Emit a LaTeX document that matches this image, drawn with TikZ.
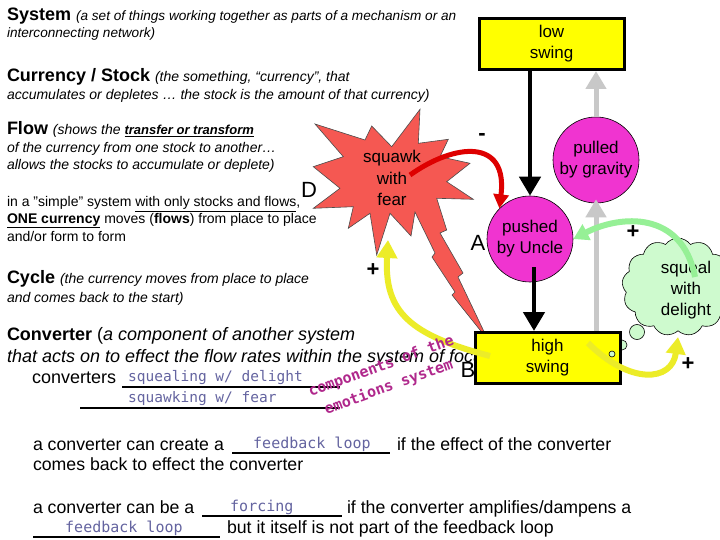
\documentclass[tikz,border=0pt]{standalone}
\usepackage{fontspec}
\setmainfont{Liberation Sans}
\newfontfamily\handfont{DejaVu Sans Mono}
\usetikzlibrary{shapes.symbols,arrows.meta}
\definecolor{boxyellow}{RGB}{255,255,0}
\definecolor{circmag}{RGB}{240,52,208}
\definecolor{starred}{RGB}{245,88,82}
\definecolor{cloudgreen}{RGB}{206,250,206}
\definecolor{arrgreen}{RGB}{150,240,150}
\definecolor{arryellow}{RGB}{236,236,40}
\definecolor{arrred}{RGB}{222,0,0}
\definecolor{arrgray}{RGB}{200,200,200}
\definecolor{handblue}{RGB}{100,100,160}
\definecolor{handpurple}{RGB}{176,40,140}
\begin{document}
\begin{tikzpicture}[x=1pt,y=-1pt,
  txt/.style={anchor=base west,inner sep=0pt,outer sep=0pt},
  hand/.style={anchor=base west,inner sep=0pt,text=handblue,font=\handfont\fontsize{14.5}{16}\selectfont},
  blank/.style={line width=1.3pt},
  swingbox/.style={draw=black,line width=3pt,fill=boxyellow,minimum width=145pt,minimum height=51pt,align=center,font=\fontsize{17}{21}\selectfont,inner sep=0pt},
  stockcirc/.style={circle,draw=black,line width=0.6pt,fill=circmag,minimum size=86pt,align=center,inner sep=0pt,font=\fontsize{17}{21}\selectfont},
  blk/.style={line width=4.5pt,-{Triangle[width=21pt,length=19pt]}},
  gry/.style={draw=arrgray,line width=5pt,-{Triangle[width=20pt,length=18pt]}},
  sign/.style={inner sep=0pt,font=\bfseries\fontsize{22}{22}\selectfont},
  letter/.style={inner sep=0pt,font=\fontsize{22}{22}\selectfont},
  bubble/.style={circle,draw=black,line width=0.6pt,fill=cloudgreen,inner sep=0pt}]
\useasboundingbox (0,0) rectangle (720,540);
\fill[white] (0,0) rectangle (720,540);

% ---------- left text ----------
\node[txt] (sys) at (7,21) {\fontsize{18}{20}\selectfont\bfseries System\ \fontsize{13.6}{15}\selectfont\mdseries\itshape (a set of things working together as parts of a mechanism or an};
\node[txt] (sys2) at (7,38) {\fontsize{13.6}{15}\selectfont\itshape interconnecting network)};
\node[txt] (cur) at (7,82) {\fontsize{18}{20}\selectfont\bfseries Currency / Stock\ \fontsize{14}{15}\selectfont\mdseries\itshape (the something, ``currency'', that};
\node[txt] (cur2) at (7,100) {\fontsize{14}{15}\selectfont\itshape accumulates or depletes … the stock is the amount of that currency)};
\node[txt] (flow) at (7,135) {\fontsize{18}{20}\selectfont\bfseries Flow\ \fontsize{14}{15}\selectfont\mdseries\itshape (shows the \fontsize{13}{15}\selectfont\bfseries\underline{transfer or transform}};
\node[txt] (flow2) at (7,153) {\fontsize{14}{15}\selectfont\itshape of the currency from one stock to another…};
\node[txt] (flow3) at (7,170) {\fontsize{14}{15}\selectfont\itshape allows the stocks to accumulate or deplete)};
\node[txt] (simp1) at (7,207) {\fontsize{14}{15}\selectfont in a "simple" system \underline{with only stocks and flows},};
\node[txt] (simp2) at (7,223) {\fontsize{14}{15}\selectfont\underline{\bfseries ONE currency} moves (\textbf{flows}) from place to place};
\node[txt] (simp3) at (7,241) {\fontsize{14}{15}\selectfont and/or form to form};
\node[txt] (cyc) at (7,283) {\fontsize{18}{20}\selectfont\bfseries Cycle\ \fontsize{14}{15}\selectfont\mdseries\itshape (the currency moves from place to place};
\node[txt] (cyc2) at (7,302) {\fontsize{14}{15}\selectfont\itshape and comes back to the start)};
\node[txt] (conv) at (7,340) {\fontsize{18}{20}\selectfont\textbf{Converter} (\textit{a component of another system}};
\node[txt] (conv2) at (7,362) {\fontsize{18}{20}\selectfont\itshape that acts on to effect the flow rates within the system of focus)};
\node[txt] (convs) at (32,383) {\fontsize{18}{20}\selectfont converters};
\draw[blank] (122,387) -- (340,387);
\node[hand] (h1) at (128,381) {squealing w/ delight};
\draw[blank] (80,408) -- (340,408);
\node[hand] (h2) at (128,402) {squawking w/ fear};

% bottom sentences
\node[txt] (bot1a) at (33,450) {\fontsize{17.7}{22}\selectfont a converter can create a};
\draw[blank] (232,453) -- (390,453);
\node[hand,font=\handfont\fontsize{15}{16}\selectfont] (fb1) at (253,448) {feedback loop};
\node[txt] (bot1b) at (397,450) {\fontsize{17.7}{22}\selectfont if the effect of the converter};
\node[txt] (bot2) at (33,470) {\fontsize{17.7}{22}\selectfont comes back to effect the converter};
\node[txt] (bot3a) at (33,513) {\fontsize{17.7}{22}\selectfont a converter can be a};
\draw[blank] (202,516) -- (342,516);
\node[hand,font=\handfont\fontsize{15}{16}\selectfont] (fc) at (230,511) {forcing};
\node[txt] (bot3b) at (347,513) {\fontsize{17.7}{22}\selectfont if the converter amplifies/dampens a};
\draw[blank] (33,537) -- (220,537);
\node[hand,font=\handfont\fontsize{15}{16}\selectfont] (fb2) at (65,532) {feedback loop};
\node[txt] (bot4) at (227,533) {\fontsize{17.7}{22}\selectfont but it itself is not part of the feedback loop};

% ---------- diagram ----------
% squawk starburst with lightning tail
\filldraw[fill=starred,draw=black!70,line width=0.6pt]
 (315,124) -- (365,140) -- (371.7,126) -- (391.7,146.7) -- (420,109.3) -- (418.3,143.3)
 -- (448.3,139.3) -- (440,156.7) -- (470,163.3) -- (446.7,181.7) -- (473.3,199.3)
 -- (436.7,198.3) -- (446.7,230) -- (440,233) -- (463,273) -- (458,277) -- (488,340)
 -- (452,295) -- (455,292) -- (432,257) -- (435,253) -- (415,212) -- (411,236)
 -- (390,213.3) -- (376.7,255) -- (370,213.3) -- (348.3,228.3) -- (353.3,206.7)
 -- (313.3,208.3) -- (340,188.3) -- (313.3,166.7) -- (343.3,156.7) -- cycle;
\node[align=center,inner sep=0pt,font=\fontsize{17}{21.5}\selectfont] (sq) at (392,178) {squawk\\with\\fear};

% stocks and boxes
\node[swingbox] (low) at (551.5,44) {low\\swing};
\node[stockcirc] (pushed) at (530,239) {pushed\\by Uncle};
\node[stockcirc] (pulled) at (596,160) {pulled\\by gravity};

% cloud
\node[cloud,cloud puffs=13,cloud puff arc=110,draw=black,line width=0.6pt,fill=cloudgreen,minimum width=112pt,minimum height=98pt,inner sep=0pt] (cloud) at (678,287) {};
\node[align=center,inner sep=0pt,font=\fontsize{17}{21}\selectfont] (cloudtxt) at (686,290) {squeal\\with\\delight};
\node[bubble,minimum size=15pt] (bb1) at (637,332) {};
\node[bubble,minimum size=10pt] (bb2) at (622,345) {};

% flows
\draw[blk] (low.south -| pushed.north) -- (pushed.north);
\coordinate (pb) at (534,267);
\draw[line width=4.5pt] (pb) -- (534,300);

\node[swingbox] (high) at (547.5,358) {high\\swing};
\draw[blk,shorten <=0pt] (534,296) -- (pb |- high.north);
\node[bubble,minimum size=6pt] (bb3) at (612,354) {};

\draw[gry] (high.north -| pulled.south) -- ([yshift=4pt]pulled.south);
\draw[gry] (pulled.north) -- (pulled.north |- low.south);

% converter links
\coordinate (sqw) at (410,175);
\draw[draw=arrred,line width=5pt,-{Triangle[width=15pt,length=14pt]}] (sqw) .. controls (455,143) and (508,138) .. (pushed.north west);
\coordinate (clw) at (695,277);
\draw[draw=arrgreen,line width=6pt,-{Triangle[width=17pt,length=15pt]}] (clw) .. controls (682,210) and (620,215) .. (pushed.east);
\coordinate (hy1) at (490,356);
\draw[draw=arryellow,line width=6pt,-{Triangle[width=20pt,length=18pt]}] (hy1) .. controls (410,335) and (384,312) .. (388,240);
\coordinate (hy2) at (588,343);
\draw[draw=arryellow,line width=6pt,-{Triangle[width=19pt,length=17pt]}] (hy2) .. controls (630,385) and (672,382) .. (678,337);

% signs and letters
\node[sign] (minus) at (482,137) {-};
\node[sign] (plus1) at (373,270) {+};
\node[sign] (plus2) at (633,232) {+};
\node[sign] (plus3) at (688,364) {+};
\node[letter] (la) at (478,243) {A};
\node[letter] (lb) at (468,370) {B};
\node[letter] (ld) at (309,190) {D};

% rotated annotation
\node[rotate=20,text=handpurple,align=center,inner sep=0pt,font=\handfont\bfseries\fontsize{15}{22}\selectfont] (emo) at (385,377) {components of the\\emotions system};
\end{tikzpicture}
\end{document}
